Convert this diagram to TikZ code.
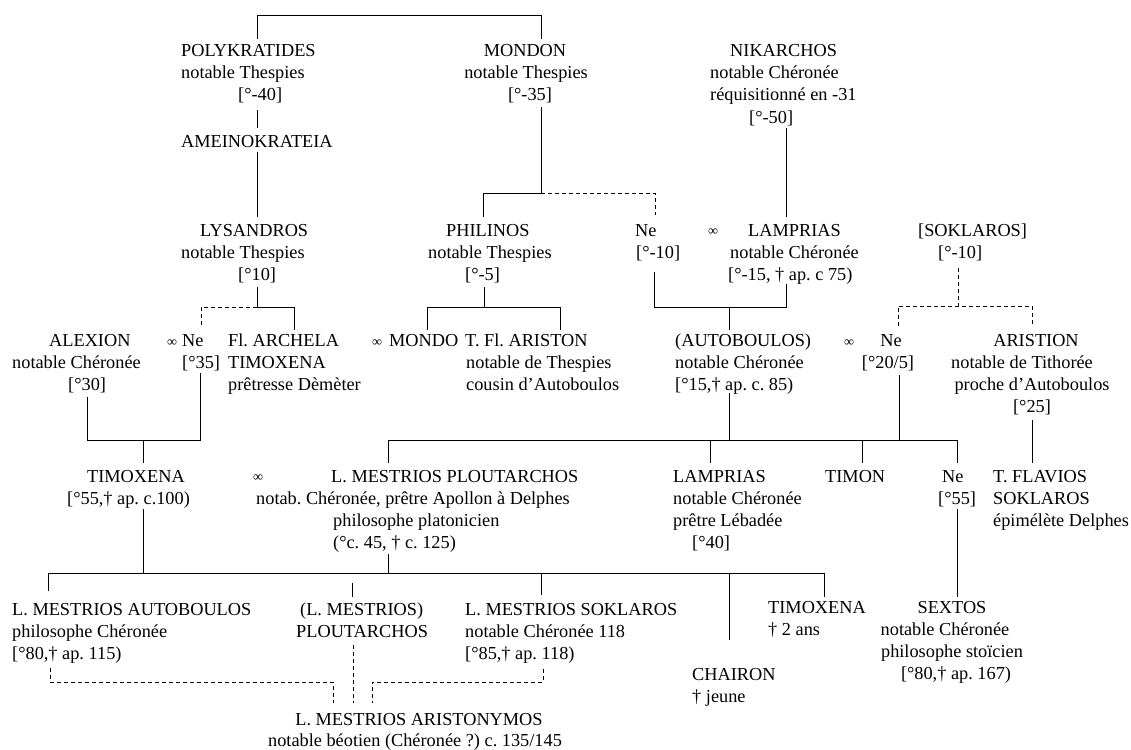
\documentclass[tikz,border=0pt]{standalone}
\usepackage{fontspec}
\setmainfont{Liberation Serif}
\frenchspacing
\begin{document}
\frenchspacing
\begin{tikzpicture}[x=1pt,y=-1pt,
  txt/.style={anchor=base west,inner sep=0pt,font=\fontsize{18.3}{22}\selectfont\frenchspacing},
  txc/.style={anchor=base,inner sep=0pt,font=\fontsize{18.3}{22}\selectfont\frenchspacing},
  infsym/.style={anchor=center,inner sep=0pt,font=\fontsize{14}{14}\selectfont},
  solidline/.style={line width=1pt},
  dashline/.style={line width=1pt,dash pattern=on 4pt off 3pt}]
\useasboundingbox (0,0) rectangle (1131,749);
% ---------- row 1
\node[txt] (polyA) at (181,57) {POLYKRATIDES};
\node[txt] (polyB) at (181,79) {notable Thespies};
\node[txt] (polyC) at (238,101) {[°-40]};
\node[txt] (amein) at (181,147) {AMEINOKRATEIA};
\node[txc] (mondA) at (525,57) {MONDON};
\node[txc] (mondB) at (526,79) {notable Thespies};
\node[txc] (mondC) at (530,101) {[°-35]};
\node[txt] (nikA) at (730,57) {NIKARCHOS};
\node[txt] (nikB) at (710,79) {notable Chéronée};
\node[txt] (nikC) at (710,101) {réquisitionné en -31};
\node[txt] (nikD) at (749,123) {[°-50]};
% ---------- row 2
\node[txt] (lysA) at (200,236) {LYSANDROS};
\node[txt] (lysB) at (181,258) {notable Thespies};
\node[txt] (lysC) at (238,280) {[°10]};
\node[txt] (phiA) at (446,236) {PHILINOS};
\node[txt] (phiB) at (428,258) {notable Thespies};
\node[txt] (phiC) at (465,280) {[°-5]};
\node[txt] (neaA) at (635,236) {Ne};
\node[txt] (neaB) at (636,258) {[°-10]};
\node[infsym] (infA) at (713,232) {∞};
\node[txt] (lamA) at (748,236) {LAMPRIAS};
\node[txt] (lamB) at (730,258) {notable Chéronée};
\node[txt] (lamC) at (728,280) {[°-15, † ap. c 75)};
\node[txt] (sokA) at (918,236) {[SOKLAROS]};
\node[txt] (sokB) at (938,258) {[°-10]};
% ---------- row 3
\node[txt] (alxA) at (49,346) {ALEXION};
\node[txt] (alxB) at (12,368) {notable Chéronée};
\node[txt] (alxC) at (68,390) {[°30]};
\node[infsym] (infB) at (172,343) {∞};
\node[txt] (nebA) at (182,346) {Ne};
\node[txt] (nebB) at (182,368) {[°35]};
\node[txt] (arcA) at (228,346) {Fl. ARCHELA};
\node[txt] (arcB) at (228,368) {TIMOXENA};
\node[txt] (arcC) at (228,390) {prêtresse Dèmèter};
\node[infsym] (infC) at (377,343) {∞};
\node[txt] (mdo) at (389,346) {MONDO};
\node[txt] (ariA) at (465,346) {T. Fl. ARISTON};
\node[txt] (ariB) at (466,368) {notable de Thespies};
\node[txt] (ariC) at (466,390) {cousin d’Autoboulos};
\node[txt] (autA) at (675,346) {(AUTOBOULOS)};
\node[txt] (autB) at (675,368) {notable Chéronée};
\node[txt] (autC) at (675,390) {[°15,† ap. c. 85)};
\node[infsym] (infD) at (849,343) {∞};
\node[txc] (necA) at (891,346) {Ne};
\node[txc] (necB) at (888,368) {[°20/5]};
\node[txc] (astA) at (1036,346) {ARISTION};
\node[txc] (astB) at (1022,368) {notable de Tithorée};
\node[txc] (astC) at (1032,390) {proche d’Autoboulos};
\node[txc] (astD) at (1032,412) {[°25]};
% ---------- row 4
\node[txt] (timA) at (87,482) {TIMOXENA};
\node[txt] (timB) at (67,504) {[°55,† ap. c.100)};
\node[infsym] (infE) at (258,478) {∞};
\node[txt] (pluA) at (331,482) {L. MESTRIOS PLOUTARCHOS};
\node[txt] (pluB) at (256,504) {notab. Chéronée, prêtre Apollon à Delphes};
\node[txt] (pluC) at (333,526) {philosophe platonicien};
\node[txt] (pluD) at (333,548) {(°c. 45, † c. 125)};
\node[txt] (lmbA) at (673,482) {LAMPRIAS};
\node[txt] (lmbB) at (673,504) {notable Chéronée};
\node[txt] (lmbC) at (673,526) {prêtre Lébadée};
\node[txt] (lmbD) at (692,548) {[°40]};
\node[txt] (tmn) at (825,482) {TIMON};
\node[txt] (nedA) at (942,482) {Ne};
\node[txt] (nedB) at (938,504) {[°55]};
\node[txt] (flvA) at (993,482) {T. FLAVIOS};
\node[txt] (flvB) at (993,504) {SOKLAROS};
\node[txt] (flvC) at (993,526) {épimélète Delphes};
% ---------- row 5
\node[txt] (mauA) at (12,615) {L. MESTRIOS AUTOBOULOS};
\node[txt] (mauB) at (12,637) {philosophe Chéronée};
\node[txt] (mauC) at (12,659) {[°80,† ap. 115)};
\node[txt] (mplA) at (300,615) {(L. MESTRIOS)};
\node[txt] (mplB) at (296,637) {PLOUTARCHOS};
\node[txt] (mskA) at (465,615) {L. MESTRIOS SOKLAROS};
\node[txt] (mskB) at (465,637) {notable Chéronée 118};
\node[txt] (mskC) at (465,659) {[°85,† ap. 118)};
\node[txt] (chaA) at (692,680) {CHAIRON};
\node[txt] (chaB) at (692,702) {† jeune};
\node[txt] (tmxA) at (768,613) {TIMOXENA};
\node[txt] (tmxB) at (768,635) {† 2 ans};
\node[txc] (sexA) at (952,613) {SEXTOS};
\node[txc] (sexB) at (945,635) {notable Chéronée};
\node[txc] (sexC) at (952,657) {philosophe stoïcien};
\node[txc] (sexD) at (956,679) {[°80,† ap. 167)};
% ---------- row 6
\node[txc] (aryA) at (419,725) {L. MESTRIOS ARISTONYMOS};
\node[txc] (aryB) at (415,746) {notable béotien (Chéronée ?) c. 135/145};
% ================= connectors
% top bracket
\coordinate (c1) at (257,39); \coordinate (c2) at (257,16);
\coordinate (c3) at (541,16); \coordinate (c4) at (541,39);
\draw[solidline] (c1) -- (c2) -- (c3) -- (c4);
\coordinate (c5) at (257,110); \coordinate (c6) at (257,128);
\draw[solidline] (c5) -- (c6);
\coordinate (c7) at (257,152); \coordinate (c8) at (257,217);
\draw[solidline] (c7) -- (c8);
% Mondon children
\coordinate (m1) at (541,107); \coordinate (m2) at (541,193);
\coordinate (m3) at (483,193); \coordinate (m4) at (483,217);
\coordinate (m5) at (655,193); \coordinate (m6) at (655,215);
\draw[solidline] (m1) -- (m2) -- (m3) -- (m4);
\draw[dashline] (m2) -- (m5) -- (m6);
% Nikarchos
\coordinate (n1) at (786,128); \coordinate (n2) at (786,217);
\draw[solidline] (n1) -- (n2);
% Lysandros children
\coordinate (l1) at (257,287); \coordinate (l2) at (257,307);
\coordinate (l3) at (294,307); \coordinate (l4) at (294,330);
\coordinate (l5) at (201,307); \coordinate (l6) at (201,327);
\draw[solidline] (l1) -- (l2) -- (l3) -- (l4);
\draw[dashline] (l2) -- (l5) -- (l6);
% Philinos children
\coordinate (p1) at (484,287); \coordinate (p2) at (484,307);
\coordinate (p3) at (427,307); \coordinate (p4) at (427,330);
\coordinate (p5) at (560,307); \coordinate (p6) at (560,330);
\draw[solidline] (p1) -- (p2);
\draw[solidline] (p4) -- (p3) -- (p5) -- (p6);
% Ne x Lamprias -> Autoboulos
\coordinate (a1) at (654,272); \coordinate (a2) at (654,307);
\coordinate (a3) at (786,307); \coordinate (a4) at (786,284);
\coordinate (a5) at (729,307); \coordinate (a6) at (729,330);
\draw[solidline] (a1) -- (a2) -- (a3) -- (a4);
\draw[solidline] (a5) -- (a6);
% [Soklaros] children
\coordinate (s1) at (958,268); \coordinate (s2) at (958,306);
\coordinate (s3) at (898,306); \coordinate (s4) at (898,326);
\coordinate (s5) at (1032,306); \coordinate (s6) at (1032,326);
\draw[dashline] (s1) -- (s2);
\draw[dashline] (s4) -- (s3) -- (s5) -- (s6);
% Alexion x Ne -> Timoxena
\coordinate (t1) at (87,397); \coordinate (t2) at (87,440);
\coordinate (t3) at (200,373); \coordinate (t4) at (200,440);
\coordinate (t5) at (143,440); \coordinate (t6) at (143,463);
\draw[solidline] (t1) -- (t2) -- (t4) -- (t3);
\draw[solidline] (t5) -- (t6);
% Autoboulos x Ne -> children
\coordinate (b1) at (729,393); \coordinate (b2) at (729,440);
\coordinate (b3) at (899,375); \coordinate (b4) at (899,440);
\coordinate (b5) at (388,440); \coordinate (b6) at (388,463);
\coordinate (b7) at (957,440); \coordinate (b8) at (957,463);
\coordinate (b9) at (710,440); \coordinate (b10) at (710,463);
\coordinate (b11) at (862,440); \coordinate (b12) at (862,463);
\draw[solidline] (b1) -- (b2);
\draw[solidline] (b3) -- (b4);
\draw[solidline] (b6) -- (b5) -- (b7) -- (b8);
\draw[solidline] (b9) -- (b10);
\draw[solidline] (b11) -- (b12);
% Aristion -> T. Flavios
\coordinate (f1) at (1032,420); \coordinate (f2) at (1032,463);
\draw[solidline] (f1) -- (f2);
% Timoxena x Ploutarchos -> children
\coordinate (k1) at (143,509); \coordinate (k2) at (143,573);
\coordinate (k3) at (388,554); \coordinate (k4) at (388,573);
\coordinate (k5) at (48,573); \coordinate (k6) at (48,591);
\coordinate (k7) at (824,573); \coordinate (k8) at (824,597);
\coordinate (k9) at (352,583); \coordinate (k10) at (352,597);
\coordinate (k11) at (541,573); \coordinate (k12) at (541,595);
\coordinate (k13) at (729,573); \coordinate (k14) at (729,640);
\draw[solidline] (k1) -- (k2);
\draw[solidline] (k3) -- (k4);
\draw[solidline] (k6) -- (k5) -- (k7) -- (k8);
\draw[solidline] (k9) -- (k10);
\draw[solidline] (k11) -- (k12);
\draw[solidline] (k13) -- (k14);
% Ne [55] -> Sextos
\coordinate (x1) at (957,509); \coordinate (x2) at (957,597);
\draw[solidline] (x1) -- (x2);
% dashed descent to Aristonymos
\coordinate (d1) at (50,668); \coordinate (d2) at (50,682);
\coordinate (d3) at (333,682); \coordinate (d4) at (333,703);
\coordinate (d5) at (543,669); \coordinate (d6) at (543,682);
\coordinate (d7) at (372,682); \coordinate (d8) at (372,703);
\coordinate (d9) at (353,645); \coordinate (d10) at (353,703);
\draw[dashline] (d1) -- (d2) -- (d3) -- (d4);
\draw[dashline] (d5) -- (d6) -- (d7) -- (d8);
\draw[dashline] (d9) -- (d10);
\end{tikzpicture}
\end{document}
